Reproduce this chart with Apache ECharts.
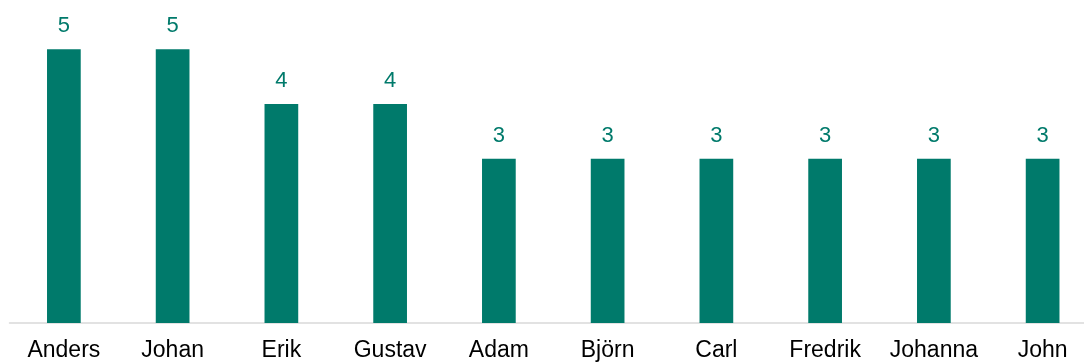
<!DOCTYPE html>
<html>
<head>
<meta charset="utf-8">
<script src="https://cdn.jsdelivr.net/npm/echarts@6/dist/echarts.min.js"></script>
<style>
  html, body { margin: 0; padding: 0; background: #fff; overflow: hidden; }
  #chart { width: 1097px; height: 362px; }
</style>
</head>
<body>
<div id="chart"></div>
<script>
const names = ['Anders', 'Johan', 'Erik', 'Gustav', 'Adam', 'Björn', 'Carl', 'Fredrik', 'Johanna', 'John']
const counts = [5, 5, 4, 4, 3, 3, 3, 3, 3, 3]

const teal = '#007A6B'
const chart = echarts.init(document.getElementById('chart'))

chart.setOption({
  animation: false,
  grid: { left: 9.5, right: 0, top: 0, bottom: 37.5, containLabel: false },
  xAxis: {
    type: 'category',
    data: names,
    axisLine: { lineStyle: { color: '#d9d9d9', width: 1.5 } },
    axisTick: { show: false },
    axisLabel: {
      interval: 0,
      margin: 16,
      fontFamily: 'Liberation Sans, Arial, sans-serif',
      fontSize: 23,
      color: '#000'
    }
  },
  yAxis: {
    type: 'value',
    min: 0,
    max: 5.9,
    show: false,
    splitLine: { show: false }
  },
  series: [{
    type: 'bar',
    data: counts,
    barWidth: '31%',
    itemStyle: { color: teal },
    label: {
      show: true,
      position: 'top',
      distance: 12,
      fontFamily: 'Liberation Sans, Arial, sans-serif',
      fontSize: 22,
      color: teal
    }
  }]
})
</script>
</body>
</html>
